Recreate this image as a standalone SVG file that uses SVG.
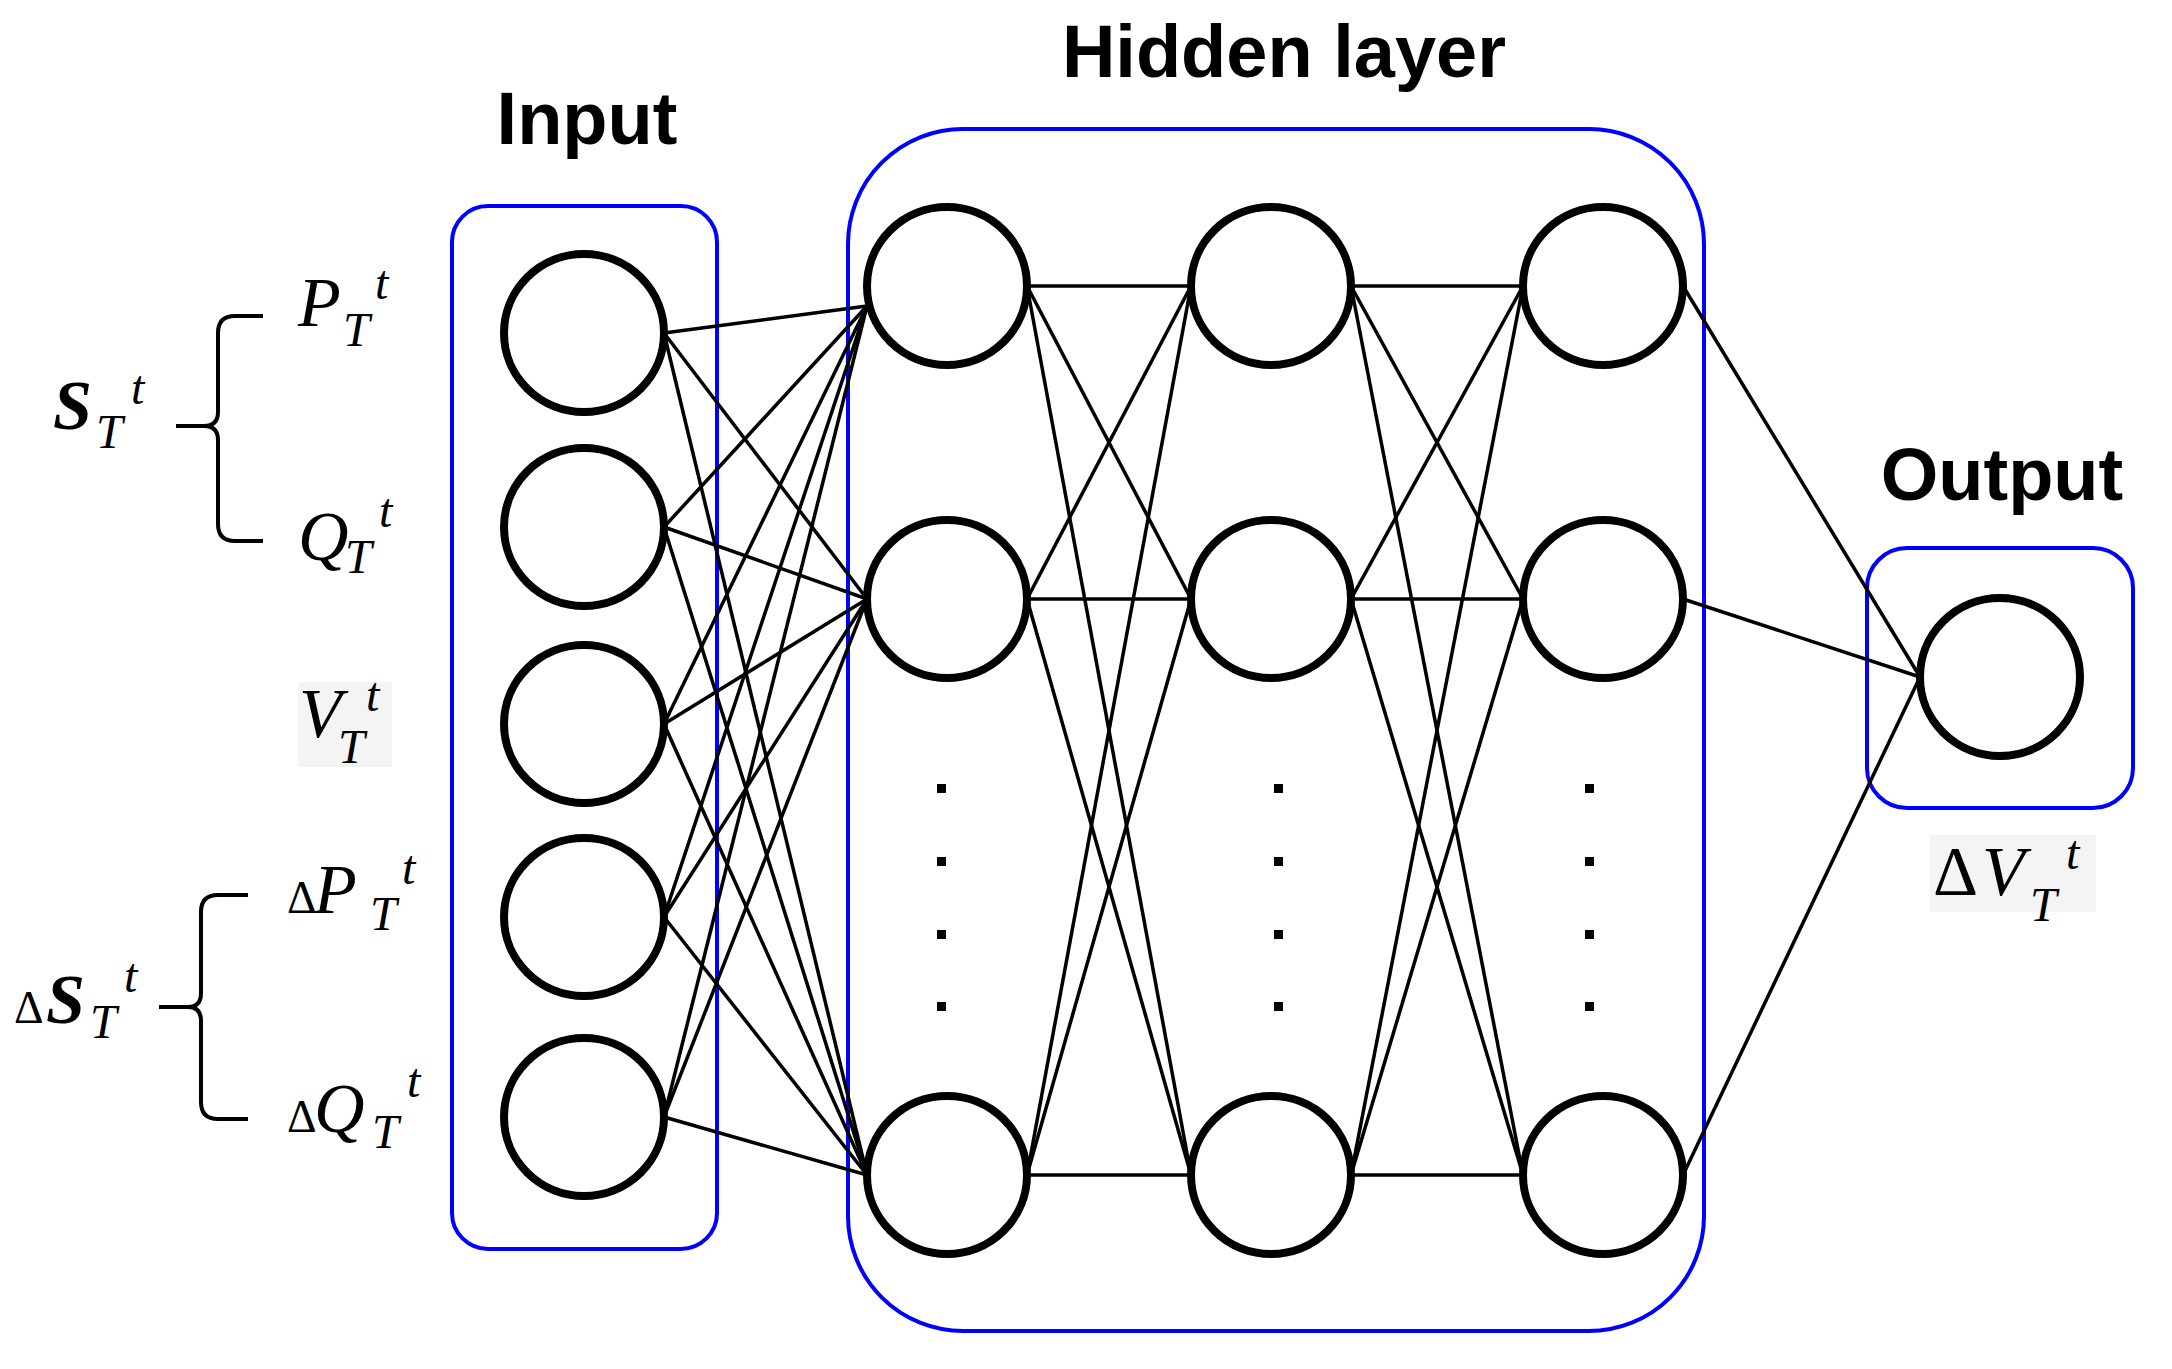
<svg xmlns="http://www.w3.org/2000/svg" width="2172" height="1369" viewBox="0 0 2172 1369">
<style>
.box{fill:none;stroke:#0000ff;stroke-width:4}
.n{fill:#fff;stroke:#000;stroke-width:8}
.e line{stroke:#000;stroke-width:3.5}
.h{font-family:"Liberation Sans",Arial,sans-serif;font-weight:bold;font-size:74px;text-anchor:middle}
.m{font-family:"Liberation Serif","Times New Roman",serif;font-style:italic;font-size:70px}
.s{font-family:"Liberation Serif","Times New Roman",serif;font-style:italic;font-size:48px}
.d{fill:#000}
.br{fill:none;stroke:#000;stroke-width:4}
</style>
<rect x="0" y="0" width="2172" height="1369" fill="#fff"/>
<g id="boxes">
<rect class="box" x="452" y="206" width="265" height="1043" rx="36"/>
<rect class="box" x="848" y="129" width="856" height="1202" rx="115"/>
<rect class="box" x="1867" y="548" width="266" height="260" rx="40"/>
</g>
<g id="connectors" class="e">
<line x1="664" y1="333" x2="867" y2="306"/><line x1="664" y1="333" x2="867" y2="599"/><line x1="664" y1="333" x2="867" y2="1175"/>
<line x1="664" y1="527" x2="867" y2="306"/><line x1="664" y1="527" x2="867" y2="599"/><line x1="664" y1="527" x2="867" y2="1175"/>
<line x1="664" y1="724" x2="867" y2="306"/><line x1="664" y1="724" x2="867" y2="599"/><line x1="664" y1="724" x2="867" y2="1175"/>
<line x1="664" y1="917" x2="867" y2="306"/><line x1="664" y1="917" x2="867" y2="599"/><line x1="664" y1="917" x2="867" y2="1175"/>
<line x1="664" y1="1117" x2="867" y2="306"/><line x1="664" y1="1117" x2="867" y2="599"/><line x1="664" y1="1117" x2="867" y2="1175"/>
<line x1="1027" y1="286" x2="1191" y2="286"/><line x1="1027" y1="286" x2="1191" y2="599"/><line x1="1027" y1="286" x2="1191" y2="1175"/>
<line x1="1027" y1="599" x2="1191" y2="286"/><line x1="1027" y1="599" x2="1191" y2="599"/><line x1="1027" y1="599" x2="1191" y2="1175"/>
<line x1="1027" y1="1175" x2="1191" y2="286"/><line x1="1027" y1="1175" x2="1191" y2="599"/><line x1="1027" y1="1175" x2="1191" y2="1175"/>
<line x1="1351" y1="286" x2="1523" y2="286"/><line x1="1351" y1="286" x2="1523" y2="599"/><line x1="1351" y1="286" x2="1523" y2="1175"/>
<line x1="1351" y1="599" x2="1523" y2="286"/><line x1="1351" y1="599" x2="1523" y2="599"/><line x1="1351" y1="599" x2="1523" y2="1175"/>
<line x1="1351" y1="1175" x2="1523" y2="286"/><line x1="1351" y1="1175" x2="1523" y2="599"/><line x1="1351" y1="1175" x2="1523" y2="1175"/>
<line x1="1683" y1="286" x2="1920" y2="677"/><line x1="1683" y1="599" x2="1920" y2="677"/><line x1="1683" y1="1175" x2="1920" y2="677"/>
</g>
<g id="input-nodes">
<ellipse id="in1" class="n" cx="584" cy="333" rx="80" ry="79"/>
<ellipse id="in2" class="n" cx="584" cy="527" rx="80" ry="79"/>
<ellipse id="in3" class="n" cx="584" cy="724" rx="80" ry="79"/>
<ellipse id="in4" class="n" cx="584" cy="917" rx="80" ry="79"/>
<ellipse id="in5" class="n" cx="584" cy="1117" rx="80" ry="79"/>
</g>
<g id="hidden-nodes">
<ellipse id="h11" class="n" cx="947" cy="286" rx="80" ry="79"/>
<ellipse id="h12" class="n" cx="947" cy="599" rx="80" ry="79"/>
<ellipse id="h13" class="n" cx="947" cy="1175" rx="80" ry="79"/>
<ellipse id="h21" class="n" cx="1271" cy="286" rx="80" ry="79"/>
<ellipse id="h22" class="n" cx="1271" cy="599" rx="80" ry="79"/>
<ellipse id="h23" class="n" cx="1271" cy="1175" rx="80" ry="79"/>
<ellipse id="h31" class="n" cx="1603" cy="286" rx="80" ry="79"/>
<ellipse id="h32" class="n" cx="1603" cy="599" rx="80" ry="79"/>
<ellipse id="h33" class="n" cx="1603" cy="1175" rx="80" ry="79"/>
</g>
<g id="output-node"><ellipse class="n" cx="2000" cy="677" rx="80" ry="79"/></g>
<g id="dots">
<rect class="d" x="937" y="784" width="9" height="9"/><rect class="d" x="937" y="857" width="9" height="9"/><rect class="d" x="937" y="930" width="9" height="9"/><rect class="d" x="937" y="1002" width="9" height="9"/>
<rect class="d" x="1274" y="784" width="9" height="9"/><rect class="d" x="1274" y="857" width="9" height="9"/><rect class="d" x="1274" y="930" width="9" height="9"/><rect class="d" x="1274" y="1002" width="9" height="9"/>
<rect class="d" x="1585" y="784" width="9" height="9"/><rect class="d" x="1585" y="857" width="9" height="9"/><rect class="d" x="1585" y="930" width="9" height="9"/><rect class="d" x="1585" y="1002" width="9" height="9"/>
</g>
<g id="titles">
<text class="h" x="587" y="144">Input</text>
<text class="h" x="1284" y="77">Hidden layer</text>
<text class="h" x="2002" y="500">Output</text>
</g>
<g id="braces">
<path class="br" d="M263,316 H235 Q218,316 218,333 V412 Q218,426 204,426 H176 M204,426 Q218,426 218,440 V524 Q218,541 235,541 H263"/>
<path class="br" d="M248,895 H218 Q201,895 201,912 V993 Q201,1007 188,1007 H159 M188,1007 Q201,1007 201,1021 V1102 Q201,1119 218,1119 H248"/>
</g>
<g id="labels">
<text class="m" x="298" y="326">P</text><text class="s" x="343" y="346">T</text><text class="s" x="375" y="299">t</text>
<text class="m" x="298" y="560">Q</text><text class="s" x="345" y="573">T</text><text class="s" x="379" y="527">t</text>
<text class="m" x="53" y="429" font-weight="bold">S</text><text class="s" x="96" y="448">T</text><text class="s" x="131" y="404">t</text>
<rect x="298" y="682" width="94" height="85" fill="#f4f4f4"/>
<text class="m" x="299" y="737">V</text><text class="s" x="338" y="763">T</text><text class="s" x="366" y="711">t</text>
<text x="287" y="913" font-family="Liberation Serif,serif" font-size="46px">Δ</text><text class="m" x="314" y="913">P</text><text class="s" x="370" y="930">T</text><text class="s" x="402" y="884">t</text>
<text x="287" y="1132" font-family="Liberation Serif,serif" font-size="46px">Δ</text><text class="m" x="314" y="1132">Q</text><text class="s" x="372" y="1148">T</text><text class="s" x="407" y="1097">t</text>
<text x="14" y="1023" font-family="Liberation Serif,serif" font-size="46px">Δ</text><text class="m" x="46" y="1023" font-weight="bold">S</text><text class="s" x="90" y="1038">T</text><text class="s" x="124" y="992">t</text>
<rect x="1930" y="835" width="166" height="77" fill="#f4f4f4"/>
<text x="1933" y="895" font-family="Liberation Serif,serif" font-size="70px">Δ</text><text class="m" x="1982" y="895">V</text><text class="s" x="2030" y="921">T</text><text class="s" x="2066" y="869">t</text>
</g>
</svg>
